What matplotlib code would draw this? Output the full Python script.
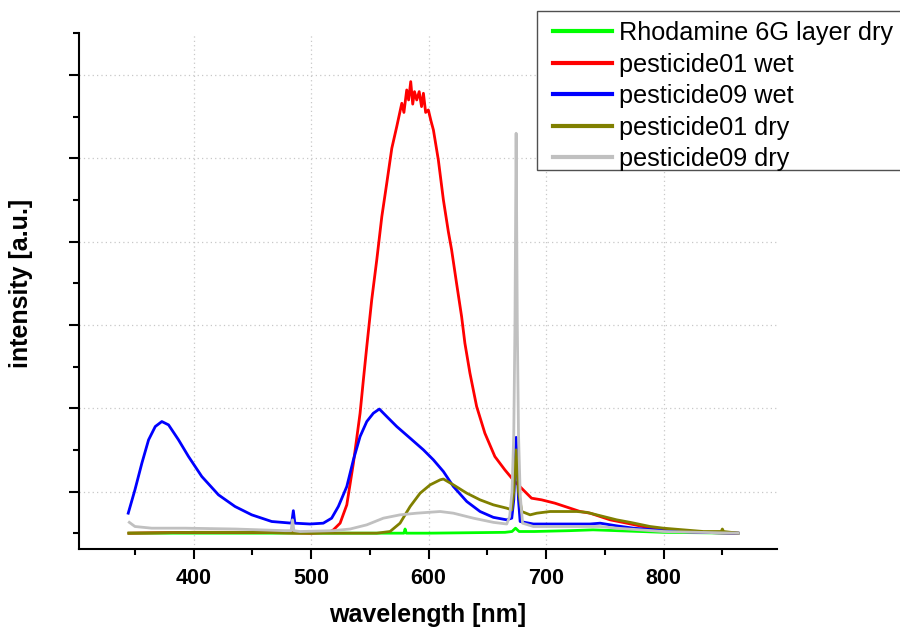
import matplotlib.pyplot as plt
from matplotlib.patches import Rectangle
from matplotlib.ticker import FixedLocator

# wavelength [nm] / intensity [a.u.]
wl_rhodamine = [345, 500, 575, 579, 580, 581, 600, 665, 671, 674, 677, 690, 720, 740, 760, 800, 863]
int_rhodamine = [0.0, 0.0, 0.0, 0.0, 0.05, 0.0, 0.0, 0.01, 0.02, 0.06, 0.02, 0.02, 0.03, 0.04, 0.03, 0.01, 0.0]

wl_p01_wet = [345, 400, 450, 500, 515, 519, 524.7, 530.4, 536, 541.7, 544.5, 547.4, 551.6, 555.9,
              560.2, 564.4, 568.7, 572.9, 577.2, 579, 581.4, 583, 584.8, 586.5, 588, 589.9, 592,
              594, 595.6, 597.5, 599.8, 602, 604.1, 608.3, 612.6, 616.8, 619.6, 623.8, 628.1,
              630.9, 635.2, 640.9, 647.9, 656.4, 664.9, 672, 681.9, 687.6, 696.2, 707.5,
              720.4, 728.9, 737.4, 746, 754.5, 768.7, 789, 806, 830, 863]
int_p01_wet = [0.0, 0.01, 0.01, 0.0, 0.01, 0.04, 0.12, 0.34, 0.84, 1.44, 1.84, 2.24, 2.80, 3.28,
               3.80, 4.20, 4.62, 4.88, 5.16, 5.05, 5.32, 5.20, 5.42, 5.15, 5.30, 5.20, 5.30,
               5.12, 5.28, 5.05, 5.08, 4.95, 4.84, 4.48, 4.00, 3.62, 3.40, 3.00, 2.60,
               2.28, 1.92, 1.52, 1.20, 0.92, 0.76, 0.64, 0.50, 0.42, 0.40, 0.36,
               0.30, 0.26, 0.24, 0.20, 0.16, 0.12, 0.06, 0.03, 0.01, 0.0]

wl_p09_wet = [344.4, 350.1, 356, 361.7, 367.4, 373, 378.7, 387.2, 395.7, 407, 421.2, 435.3, 449.5,
              466.5, 483.5, 484.9, 486.2, 499.1, 510.4, 517.5, 523.2, 530.4, 536, 541.7, 547.4,
              553, 558.1, 564.4, 572.9, 584.3, 595.6, 604.1, 612.6, 621.1, 632.5, 643.8, 655.1,
              666.5, 670.8, 672.5, 674.5, 676.5, 677.9, 689.2, 703.4, 717.6, 737.4, 746, 760,
              774.3, 799.8, 830, 863.5]
int_p09_wet = [0.24, 0.52, 0.84, 1.12, 1.28, 1.34, 1.30, 1.12, 0.92, 0.68, 0.46, 0.32, 0.22,
               0.14, 0.12, 0.27, 0.12, 0.11, 0.12, 0.18, 0.32, 0.56, 0.88, 1.16, 1.34,
               1.44, 1.49, 1.40, 1.28, 1.14, 1.00, 0.88, 0.74, 0.56, 0.38, 0.26, 0.19,
               0.16, 0.18, 0.40, 1.15, 0.40, 0.14, 0.11, 0.11, 0.11, 0.11, 0.12, 0.088,
               0.06, 0.03, 0.01, 0.0]

wl_p01_dry = [345, 400, 450, 500, 540, 555.9, 567.2, 575.7, 584.3, 592.8, 601.3, 609.8, 612.6,
              621.1, 632.5, 643.8, 655.1, 666.5, 670.8, 672.5, 674.5, 676.5, 679.3, 686.4, 692.1,
              703.4, 717.6, 726.1, 734.6, 743.1, 760.1, 771.5, 788.5, 799.8, 816.8, 833.9, 849,
              850, 851, 863.5]
int_p01_dry = [0.0, 0.01, 0.01, 0.0, 0.0, 0.0, 0.02, 0.12, 0.32, 0.48, 0.58, 0.64, 0.65,
               0.58, 0.48, 0.40, 0.34, 0.30, 0.28, 0.50, 1.00, 0.50, 0.26, 0.22, 0.24,
               0.26, 0.26, 0.26, 0.25, 0.22, 0.16, 0.13, 0.08, 0.06, 0.04, 0.02, 0.02,
               0.05, 0.02, 0.0]

wl_p09_dry = [345.3, 350.1, 364.3, 392.6, 435.2, 477.8, 483, 484.2, 485.4, 490.6, 519, 533.2,
              547.4, 561.5, 575.7, 589.9, 609.8, 621.1, 638.1, 655.1, 666.5, 669, 671, 672.5,
              673.5, 674.5, 675.5, 676.5, 678, 680, 689.2, 746, 760, 780, 800, 830, 863.5]
int_p09_dry = [0.13, 0.08, 0.06, 0.06, 0.05, 0.03, 0.03, 0.16, 0.03, 0.02, 0.03, 0.05,
               0.10, 0.18, 0.22, 0.24, 0.26, 0.24, 0.18, 0.13, 0.11, 0.20, 0.50, 1.20,
               2.50, 4.80, 2.50, 1.20, 0.45, 0.12, 0.08, 0.08, 0.06, 0.04, 0.02, 0.01, 0.0]

series = [
    (wl_rhodamine, int_rhodamine, 'Rhodamine 6G layer dry', '#00ff00'),
    (wl_p01_wet, int_p01_wet, 'pesticide01 wet', '#ff0000'),
    (wl_p09_wet, int_p09_wet, 'pesticide09 wet', '#0000ff'),
    (wl_p01_dry, int_p01_dry, 'pesticide01 dry', '#808000'),
    (wl_p09_dry, int_p09_dry, 'pesticide09 dry', '#c0c0c0'),
]

plt.rcParams['font.family'] = ['Liberation Sans', 'DejaVu Sans']

W, H = 900, 628
fig = plt.figure(figsize=(W / 100, H / 100), dpi=100)
ax = fig.add_axes([79 / W, 1 - 549 / H, 698 / W, 515.7 / H])

for x, y, label, color in series:
    ax.plot(x, y, color=color, lw=2, label=label)

ax.set_xlim(302.5, 896.5)
ax.set_ylim(-0.19, 6.0)

ax.xaxis.set_major_locator(FixedLocator([400, 500, 600, 700, 800]))
ax.xaxis.set_minor_locator(FixedLocator([350, 450, 550, 650, 750, 850]))
ax.yaxis.set_major_locator(FixedLocator([0.5, 1.5, 2.5, 3.5, 4.5, 5.5]))
ax.yaxis.set_minor_locator(FixedLocator([0, 1, 2, 3, 4, 5, 6]))
ax.set_yticklabels([])

for side in ['top', 'right']:
    ax.spines[side].set_visible(False)
for side in ['left', 'bottom']:
    ax.spines[side].set_linewidth(1.5)

ax.tick_params(which='major', direction='out', length=7, width=1.5, labelsize=15.5)
ax.tick_params(which='minor', direction='out', length=4.5, width=1.5)
ax.tick_params(axis='x', which='major', pad=7)
for lbl in ax.get_xticklabels():
    lbl.set_fontweight('bold')

ax.grid(True, which='major', linestyle=(0, (1, 2.5)), color='#c8c8c8', lw=0.9)

ax.set_xlabel('wavelength [nm]', fontsize=18, fontweight='bold')
ax.set_ylabel('intensity [a.u.]', fontsize=18, fontweight='bold')
ax.xaxis.set_label_coords(0.5, -0.105)
ax.yaxis.set_label_coords(-0.066, 0.515)

# legend frame runs off the right edge of the figure, so draw it by hand
frame = Rectangle((537 / W, 1 - 170 / H), 380 / W, 159 / H, transform=fig.transFigure,
                  facecolor='white', edgecolor='#505050', lw=1.0, zorder=4)
fig.patches.append(frame)
leg = fig.legend(loc='upper left', bbox_to_anchor=(553 / W, 1 - 21 / H), borderaxespad=0,
                 fontsize=18.2, frameon=False, handlelength=2.35, handletextpad=0.25,
                 labelspacing=0.3, borderpad=0)
leg.set_zorder(5)
for line in leg.get_lines():
    line.set_linewidth(3)

fig.savefig('out.png', dpi=100)
